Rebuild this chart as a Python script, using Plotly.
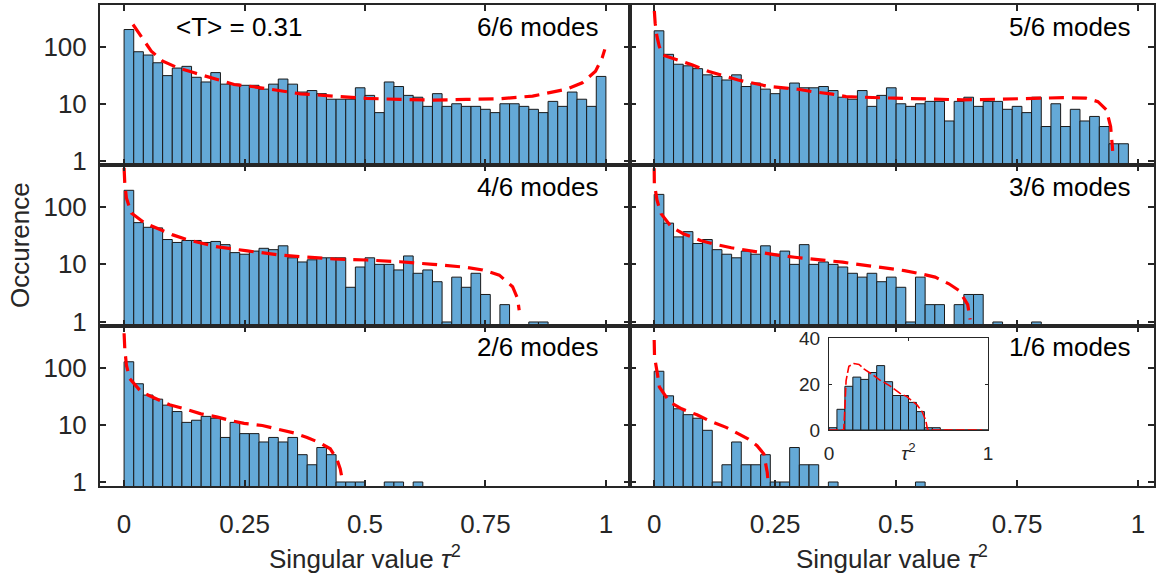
import plotly.graph_objects as go

# ---------------- data ----------------
BIN_WIDTH = 0.02
bin_centers = [round(BIN_WIDTH * (i + 0.5), 4) for i in range(50)]

counts_6of6 = [198, 81, 71, 52, 31, 42, 45, 29, 24, 35,
               22, 22, 21, 21, 18, 22, 27, 22, 16, 17,
               15, 12, 12, 12, 19, 14, 7, 24, 20, 14,
               13, 9, 15, 9, 10, 9, 9, 8, 7, 10,
               10, 9, 8, 7, 11, 9, 16, 12, 9, 30]
counts_5of6 = [188, 73, 49, 46, 41, 32, 30, 26, 32, 20,
               23, 18, 15, 19, 23, 19, 19, 20, 17, 13,
               12, 17, 9, 14, 19, 10, 9, 10, 11, 11,
               5, 11, 13, 9, 11, 11, 8, 9, 7, 13,
               4, 10, 4, 8, 5, 6, 4, 2, 2, 0]
counts_4of6 = [193, 53, 44, 43, 27, 24, 26, 26, 24, 25,
               22, 16, 15, 17, 19, 18, 21, 13, 11, 12,
               13, 13, 13, 4, 9, 13, 10, 10, 8, 14,
               7, 8, 5, 1, 6, 4, 7, 3, 0, 2,
               0, 0, 1, 1, 0, 0, 0, 0, 0, 0]
counts_3of6 = [164, 52, 30, 37, 23, 27, 18, 15, 13, 17,
               15, 21, 15, 17, 10, 22, 10, 11, 10, 9,
               7, 6, 7, 5, 6, 4, 1, 6, 2, 2,
               0, 2, 3, 3, 0, 1, 0, 0, 0, 1,
               0, 0, 0, 0, 0, 0, 0, 0, 0, 0]
counts_2of6 = [126, 52, 33, 28, 22, 17, 11, 12, 14, 13,
               6, 11, 7, 7, 5, 6, 5, 6, 3, 2,
               4, 3, 1, 1, 1, 0, 0, 1, 1, 0,
               1, 0, 0, 0, 0, 0, 0, 0, 0, 0,
               0, 0, 0, 0, 0, 0, 0, 0, 0, 0]
counts_1of6 = [86, 32, 19, 15, 13, 8, 1, 2, 5, 2,
               2, 3, 1, 1, 4, 2, 2, 0, 1, 0,
               0, 0, 0, 0, 0, 0, 0, 1, 0, 0,
               0, 0, 0, 0, 0, 0, 0, 0, 0, 0,
               0, 0, 0, 0, 0, 0, 0, 0, 0, 0]

# theoretical curves
curve_6of6_x = [0.0185, 0.0564, 0.0804, 0.1114, 0.1458, 0.1802, 0.2284, 0.2697, 0.3282, 0.3661,
                0.4349, 0.5037, 0.5725, 0.6413, 0.7101, 0.7789, 0.8477, 0.9165, 0.9509, 0.9784,
                0.9922, 0.9977]
curve_6of6_y = [242, 83, 55.5, 42.4, 34.7, 28.4, 21.7, 19.8, 16.6, 14.9,
                13.6, 12.4, 11.9, 11.6, 11.9, 12.2, 13.6, 17.8, 23.2, 37,
                63, 89]
curve_5of6_x = [0.0003, 0.002, 0.0057, 0.0106, 0.0177, 0.0496, 0.0779, 0.1133, 0.1346, 0.1735,
                0.2054, 0.2373, 0.2975, 0.3258, 0.3683, 0.3966, 0.4958, 0.5666, 0.6374, 0.7082,
                0.779, 0.8499, 0.8924, 0.9171, 0.9348, 0.9433, 0.9469, 0.9475]
curve_5of6_y = [420, 256, 150, 100, 71, 58, 48, 36.5, 32, 26,
                22.8, 20, 17.9, 16.3, 14.7, 13.3, 12.5, 12, 11.7, 12,
                12.2, 12.8, 12.5, 10.9, 7.8, 4, 1.8, 1.5]
curve_4of6_x = [0.0, 0.0014, 0.0048, 0.0151, 0.0427, 0.0667, 0.1011, 0.1321, 0.1596, 0.1906,
                0.2559, 0.3247, 0.366, 0.4348, 0.5036, 0.5724, 0.6412, 0.71, 0.7444, 0.7788,
                0.8063, 0.8167, 0.82]
curve_4of6_y = [472, 259, 142, 77.5, 52, 42.5, 32.5, 26.6, 23.2, 20.3,
                17.1, 14.5, 13.6, 12.4, 11.9, 11.1, 10, 8.9, 8, 6.5,
                4.1, 2.55, 1.6]
curve_3of6_x = [0.0, 0.0003, 0.0057, 0.0142, 0.0354, 0.0602, 0.0956, 0.1204, 0.1593, 0.1912,
                0.2266, 0.255, 0.2904, 0.3223, 0.3541, 0.3895, 0.4391, 0.4887, 0.517, 0.5524,
                0.5807, 0.6091, 0.6303, 0.648, 0.653]
curve_3of6_y = [468, 256, 131, 76, 44.7, 34, 26, 22.8, 19.4, 17.5,
                15.7, 14.5, 13.3, 12.3, 11.7, 10.9, 9.5, 8.3, 7.8, 6.8,
                6.0, 4.6, 3.5, 2.0, 1.1]
curve_2of6_x = [0.0, 0.0014, 0.0048, 0.0117, 0.0358, 0.0633, 0.0943, 0.1252, 0.1596, 0.194,
                0.2215, 0.2491, 0.2869, 0.3178, 0.3522, 0.3798, 0.4073, 0.4279, 0.4417, 0.4486,
                0.4534]
curve_2of6_y = [396, 216, 110, 64, 37.3, 29.3, 22.3, 19, 15.5, 13.6,
                11.8, 10.6, 9.7, 8.4, 7.2, 6.0, 4.8, 3.8, 2.5, 1.7,
                1.04]
curve_1of6_x = [0.0, 0.0007, 0.0071, 0.0106, 0.0319, 0.0567, 0.0885, 0.1133, 0.1487, 0.1735,
                0.1948, 0.2125, 0.2266, 0.2337, 0.2358]
curve_1of6_y = [303, 154, 73, 45.7, 24.9, 19, 14.9, 11.8, 9, 6.9,
                5.6, 4.3, 3.1, 1.46, 0.9]

# inset
INSET_BIN = 0.05
inset_centers = [round(INSET_BIN * (i + 0.5), 4) for i in range(20)]
inset_counts = [1, 9, 19, 23, 22, 25, 28, 21, 15, 15, 12, 8, 1, 1, 0, 0, 0, 0, 0, 0]
inset_curve_x = [0.0, 0.0925, 0.099, 0.1075, 0.125, 0.157, 0.189, 0.2215, 0.275, 0.318,
                 0.383, 0.447, 0.49, 0.555, 0.587, 0.609, 0.619, 0.63, 0.963]
inset_curve_y = [0, 0, 8.6, 21.5, 27.7, 28.9, 28.5, 26.5, 24, 21.8,
                 19.2, 15.9, 14.5, 10.8, 7.8, 4.1, 0.4, 0, 0]

panel_labels = ["6/6 modes", "5/6 modes", "4/6 modes", "3/6 modes", "2/6 modes", "1/6 modes"]
mean_T_label = "<T> = 0.31"
y_tick_vals = [1, 10, 100]
y_tick_text = ["1", "10", "100"]
x_tick_vals = [0, 0.25, 0.5, 0.75, 1]
x_tick_text = ["0", "0.25", "0.5", "0.75", "1"]

# ---------------- style ----------------
W, H = 1156, 578
FONT = "Liberation Sans, Arial, Helvetica, sans-serif"
FS = 26
AX_COLOR = "#262626"
BAR_COLOR = "#64a9d7"
EDGE = "#1a1a1a"
RED = "#ff0000"


def px_x(p):
    return p / W


def px_y(p):
    return 1 - p / H


col_dom = [[px_x(100), px_x(630)], [px_x(630), px_x(1154)]]
row_dom = [[px_y(165), px_y(5)], [px_y(326), px_y(165)], [px_y(486), px_y(326)]]
x_ranges = [[-0.05, 1.05], [-0.05, 1.033]]

counts_all = [counts_6of6, counts_5of6, counts_4of6, counts_3of6, counts_2of6, counts_1of6]
curves_all = [(curve_6of6_x, curve_6of6_y), (curve_5of6_x, curve_5of6_y),
              (curve_4of6_x, curve_4of6_y), (curve_3of6_x, curve_3of6_y),
              (curve_2of6_x, curve_2of6_y), (curve_1of6_x, curve_1of6_y)]

fig = go.Figure()
layout = dict(template="none", width=W, height=H,
              margin=dict(l=0, r=0, t=0, b=0, pad=0, autoexpand=False),
              paper_bgcolor="white", plot_bgcolor="white", showlegend=False,
              bargap=0, font=dict(family=FONT, color=AX_COLOR))

annotations = []
for k in range(6):
    r, c = divmod(k, 2)
    n = k + 1
    xa = "x" if n == 1 else f"x{n}"
    ya = "y" if n == 1 else f"y{n}"
    ys = [v if v > 0 else None for v in counts_all[k]]
    fig.add_trace(go.Bar(x=bin_centers, y=ys, width=BIN_WIDTH,
                         marker=dict(color=BAR_COLOR, line=dict(color=EDGE, width=1)),
                         xaxis=xa, yaxis=ya, hoverinfo="skip"))
    cx, cy = curves_all[k]
    fig.add_trace(go.Scatter(x=cx, y=cy, mode="lines",
                             line=dict(color=RED, width=3.2, dash="15px,8px"),
                             xaxis=xa, yaxis=ya, hoverinfo="skip"))
    common = dict(showline=True, linecolor=AX_COLOR, linewidth=2, mirror="ticks",
                  ticks="inside", ticklen=6, tickwidth=2, tickcolor=AX_COLOR,
                  showgrid=False, zeroline=False, automargin=False,
                  tickfont=dict(family=FONT, size=FS, color=AX_COLOR))
    layout["xaxis" if n == 1 else f"xaxis{n}"] = dict(
        common, domain=col_dom[c], range=x_ranges[c], anchor=ya,
        tickvals=x_tick_vals, ticktext=x_tick_text,
        showticklabels=(r == 2), ticklabelstandoff=14)
    layout["yaxis" if n == 1 else f"yaxis{n}"] = dict(
        common, domain=row_dom[r], type="log", range=[-0.07, 2.725], anchor=xa,
        tickvals=y_tick_vals, ticktext=y_tick_text,
        showticklabels=(c == 0), ticklabelstandoff=6)
    right_px = 600 if c == 0 else 1132
    top_px = [27, 187, 347][r]
    annotations.append(dict(text=panel_labels[k], x=px_x(right_px), y=px_y(top_px),
                            xref="paper", yref="paper", xanchor="right", yanchor="middle",
                            showarrow=False, font=dict(family=FONT, size=FS, color="black")))

annotations.append(dict(text=mean_T_label.replace("<", "&lt;").replace(">", "&gt;"),
                        x=px_x(174), y=px_y(27), xref="paper", yref="paper",
                        xanchor="left", yanchor="middle", showarrow=False,
                        font=dict(family=FONT, size=FS, color="black")))

# inset
fig.add_trace(go.Bar(x=inset_centers, y=inset_counts, width=INSET_BIN,
                     marker=dict(color=BAR_COLOR, line=dict(color=EDGE, width=1)),
                     xaxis="x7", yaxis="y7", hoverinfo="skip"))
fig.add_trace(go.Scatter(x=inset_curve_x, y=inset_curve_y, mode="lines",
                         line=dict(color=RED, width=1.6, dash="9px,3px"),
                         xaxis="x7", yaxis="y7", hoverinfo="skip"))
inset_common = dict(showline=True, linecolor=AX_COLOR, linewidth=1, mirror="ticks",
                    ticks="inside", ticklen=3, tickwidth=1, tickcolor=AX_COLOR,
                    showgrid=False, zeroline=False, automargin=False,
                    tickfont=dict(family=FONT, size=19, color=AX_COLOR))
layout["xaxis7"] = dict(inset_common, domain=[px_x(829), px_x(988)], range=[0, 1],
                        anchor="y7", tickvals=[0, 0.5, 1],
                        ticktext=["0", "<i>τ</i><sup>2</sup>", "1"], ticklabelstandoff=6)
layout["yaxis7"] = dict(inset_common, domain=[px_y(430), px_y(338)], range=[0, 40],
                        anchor="x7", tickvals=[0, 20, 40], ticktext=["0", "20", "40"],
                        ticklabelstandoff=4)

# axis titles
annotations.append(dict(text="Occurence", x=px_x(20), y=px_y(245), xref="paper", yref="paper",
                        textangle=-90, xanchor="center", yanchor="middle", showarrow=False,
                        font=dict(family=FONT, size=FS, color=AX_COLOR)))
for cxp in [365, 892]:
    annotations.append(dict(text="Singular value <i>τ</i><sup>2</sup>", x=px_x(cxp), y=px_y(557),
                            xref="paper", yref="paper", xanchor="center", yanchor="middle",
                            showarrow=False, font=dict(family=FONT, size=FS, color=AX_COLOR)))

layout["annotations"] = annotations
fig.update_layout(**layout)
fig.write_html("out.html",
               config={"displayModeBar": False, "staticPlot": True},
               post_script="document.body.style.margin='0';document.body.style.overflow='hidden';")
